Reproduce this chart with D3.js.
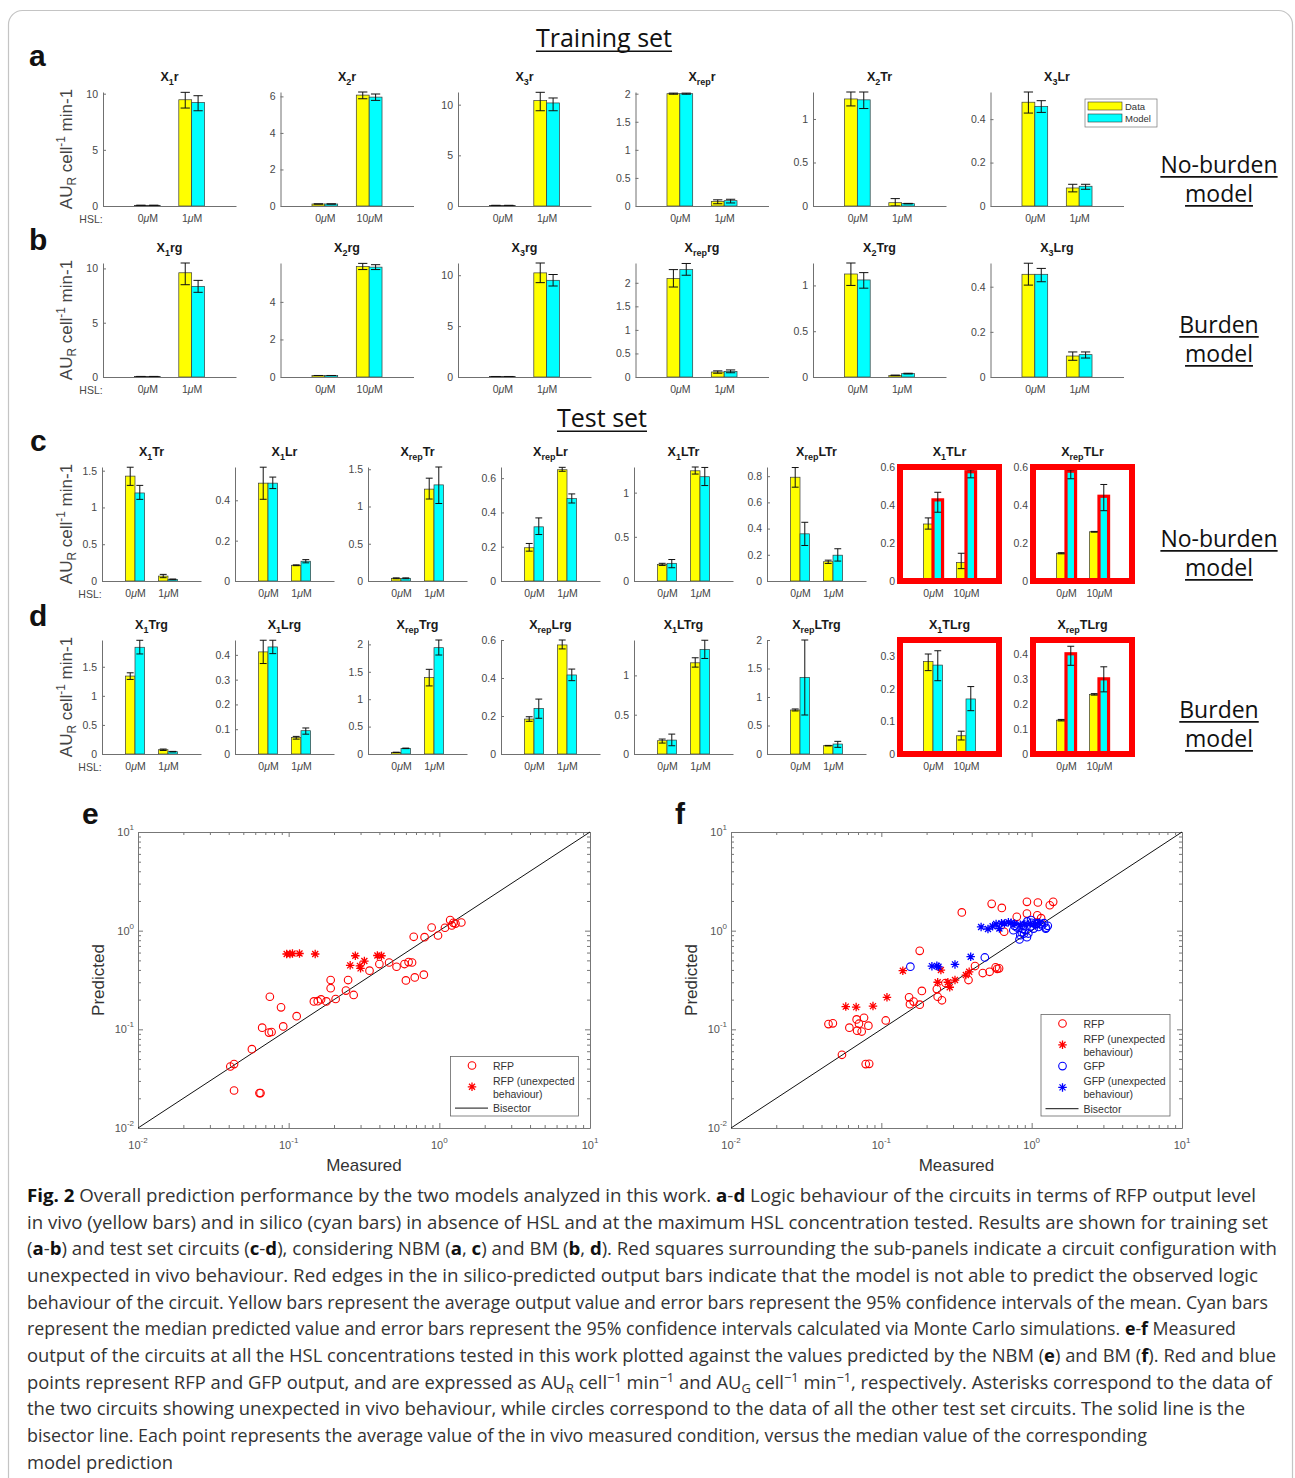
<!DOCTYPE html>
<html>
<head>
<meta charset="utf-8">
<script src="https://cdn.jsdelivr.net/npm/d3@7"></script>
<style>
  body { margin: 0; background: #fff; }
</style>
</head>
<body>
<svg id="fig" width="1295" height="1478" style="font-family:'Liberation Sans', Arial, sans-serif"></svg>
<script>
// ---------- bar panels: each pair is [0 uM HSL, max HSL] ----------
// a: training set, no-burden model
var titlesA = [["1","r"],["2","r"],["3","r"],["rep","r"],["2","Tr"],["3","Lr"]];
var hslMaxA = ["1μM","10μM","1μM","1μM","1μM","1μM"];
var dataA   = [[0.06,9.46],[0.11,6.07],[0.06,10.4],[2.0,0.083],[1.23,0.038],[0.478,0.083]];
var dataLoA = [[0.06,8.72],[0.11,5.87],[0.06,9.4],[1.99,0.04],[1.15,0.0],[0.428,0.065]];
var dataHiA = [[0.06,10.12],[0.11,6.24],[0.06,11.22],[2.01,0.11],[1.31,0.085],[0.525,0.1]];
var modelA   = [[0.06,9.22],[0.11,5.96],[0.06,10.17],[2.0,0.095],[1.22,0.027],[0.459,0.091]];
var modelLoA = [[0.06,8.48],[0.11,5.78],[0.06,9.4],[1.99,0.054],[1.12,0.024],[0.431,0.077]];
var modelHiA = [[0.06,9.82],[0.11,6.13],[0.06,10.66],[2.01,0.12],[1.31,0.03],[0.485,0.1]];
var ticksA = [[0,5,10],[0,2,4,6],[0,5,10],[0,0.5,1,1.5,2],[0,0.5,1],[0,0.2,0.4]];
var yMaxA  = [10.15, 6.24, 11.25, 2.03, 1.31, 0.525];

// b: training set, burden model
var titlesB = [["1","rg"],["2","rg"],["3","rg"],["rep","rg"],["2","Trg"],["3","Lrg"]];
var hslMaxB = ["1μM","10μM","1μM","1μM","1μM","1μM"];
var dataB   = [[0.05,9.6],[0.08,5.88],[0.05,10.23],[2.09,0.106],[1.125,0.018],[0.455,0.093]];
var dataLoB = [[0.05,8.5],[0.08,5.72],[0.05,9.27],[1.91,0.08],[1.0,0.015],[0.407,0.074]];
var dataHiB = [[0.05,10.5],[0.08,6.05],[0.05,11.2],[2.28,0.13],[1.245,0.021],[0.504,0.111]];
var modelB   = [[0.05,8.35],[0.08,5.85],[0.05,9.5],[2.28,0.12],[1.06,0.037],[0.455,0.099]];
var modelLoB = [[0.05,7.8],[0.08,5.72],[0.05,8.94],[2.16,0.09],[0.97,0.033],[0.422,0.084]];
var modelHiB = [[0.05,8.9],[0.08,5.98],[0.05,10.07],[2.41,0.15],[1.14,0.041],[0.481,0.111]];
var ticksB = [[0,5,10],[0,2,4],[0,5,10],[0,0.5,1,1.5,2],[0,0.5,1],[0,0.2,0.4]];
var yMaxB  = [10.5, 6.07, 11.2, 2.42, 1.245, 0.505];

// c: test set, no-burden model
var titlesC = [["1","Tr"],["1","Lr"],["rep","Tr"],["rep","Lr"],["1","LTr"],["rep","LTr"],["1","TLr"],["rep","TLr"]];
var hslMaxC = ["1μM","1μM","1μM","1μM","1μM","1μM","10μM","10μM"];
var dataC   = [[1.426,0.067],[0.485,0.078],[0.036,1.233],[0.194,0.649],[0.187,1.247],[0.792,0.147],[0.3,0.097],[0.146,0.259]];
var dataLoC = [[1.3,0.045],[0.405,0.076],[0.03,1.1],[0.174,0.64],[0.176,1.21],[0.716,0.134],[0.273,0.065],[0.143,0.257]];
var dataHiC = [[1.547,0.09],[0.564,0.08],[0.042,1.38],[0.219,0.663],[0.2,1.29],[0.866,0.159],[0.332,0.146],[0.149,0.261]];
var modelC   = [[1.197,0.022],[0.485,0.098],[0.036,1.29],[0.316,0.481],[0.2,1.18],[0.36,0.197],[0.427,0.575],[0.578,0.446]];
var modelLoC = [[1.11,0.017],[0.458,0.09],[0.03,1.04],[0.271,0.455],[0.15,1.08],[0.271,0.152],[0.362,0.543],[0.538,0.37]];
var modelHiC = [[1.3,0.027],[0.515,0.106],[0.042,1.53],[0.368,0.508],[0.243,1.285],[0.448,0.246],[0.467,0.585],[0.585,0.508]];
var ticksC = [[0,0.5,1,1.5],[0,0.2,0.4],[0,0.5,1,1.5],[0,0.2,0.4,0.6],[0,0.5,1],[0,0.2,0.4,0.6,0.8],[0,0.2,0.4,0.6],[0,0.2,0.4,0.6]];
var yMaxC  = [1.55, 0.565, 1.53, 0.665, 1.29, 0.87, 0.6, 0.6];
var redBoxC  = [0,0,0,0,0,0,1,1];
var redEdgeC = [0,0,0,0,0,0,1,1];

// d: test set, burden model
var titlesD = [["1","Trg"],["1","Lrg"],["rep","Trg"],["rep","Lrg"],["1","LTrg"],["rep","LTrg"],["1","TLrg"],["rep","TLrg"]];
var hslMaxD = ["1μM","1μM","1μM","1μM","1μM","1μM","10μM","10μM"];
var dataD   = [[1.34,0.074],[0.412,0.067],[0.03,1.394],[0.184,0.574],[0.169,1.16],[0.772,0.146],[0.284,0.056],[0.135,0.238]];
var dataLoD = [[1.282,0.06],[0.365,0.06],[0.027,1.242],[0.172,0.553],[0.139,1.105],[0.755,0.141],[0.256,0.043],[0.132,0.235]];
var dataHiD = [[1.396,0.085],[0.459,0.071],[0.033,1.545],[0.196,0.6],[0.19,1.224],[0.79,0.151],[0.307,0.07],[0.138,0.241]];
var modelD   = [[1.835,0.04],[0.432,0.094],[0.103,1.94],[0.24,0.416],[0.177,1.33],[1.345,0.175],[0.273,0.169],[0.4,0.3]];
var modelLoD = [[1.72,0.035],[0.405,0.08],[0.098,1.806],[0.188,0.386],[0.105,1.215],[0.684,0.117],[0.225,0.133],[0.354,0.248]];
var modelHiD = [[1.955,0.045],[0.459,0.105],[0.108,2.08],[0.289,0.447],[0.253,1.447],[2.0,0.222],[0.317,0.207],[0.43,0.348]];
var ticksD = [[0,0.5,1,1.5],[0,0.1,0.2,0.3,0.4],[0,0.5,1,1.5,2],[0,0.2,0.4,0.6],[0,0.5,1],[0,0.5,1,1.5,2],[0,0.1,0.2,0.3],[0,0.1,0.2,0.3,0.4]];
var yMaxD  = [1.96, 0.46, 2.08, 0.6, 1.45, 2.0, 0.35, 0.455];
var redBoxD  = [0,0,0,0,0,0,1,1];
var redEdgeD = [0,0,0,0,0,0,0,1];

// ---------- scatter panels: [measured, predicted] ----------
var eRfp = [[0.041,0.042],[0.0434,0.0444],[0.0434,0.024],[0.064,0.0226],[0.065,0.0226],[0.057,0.063],[0.0667,0.104],
  [0.074,0.0927],[0.077,0.094],[0.075,0.214],[0.089,0.167],[0.092,0.107],[0.113,0.136],[0.147,0.192],[0.156,0.193],
  [0.164,0.201],[0.178,0.192],[0.19,0.316],[0.19,0.261],[0.205,0.203],[0.24,0.247],[0.248,0.316],[0.27,0.223],
  [0.344,0.393],[0.40,0.459],[0.464,0.476],[0.52,0.431],[0.587,0.459],[0.625,0.48],[0.659,0.476],[0.60,0.313],
  [0.687,0.336],[0.789,0.358],[0.676,0.867],[0.798,0.86],[0.889,1.077],[0.98,0.893],[1.09,1.07],[1.18,1.28],
  [1.21,1.13],[1.28,1.18],[1.40,1.21],[1.24,1.2]];
var eRfpUnexp = [[0.097,0.58],[0.102,0.58],[0.106,0.587],[0.118,0.587],[0.150,0.58],[0.256,0.445],[0.277,0.557],
  [0.297,0.44],[0.3,0.415],[0.318,0.492],[0.388,0.56],[0.413,0.557]];
var fRfp = [[0.0445,0.113],[0.0476,0.115],[0.0547,0.0552],[0.0613,0.104],[0.0685,0.126],[0.069,0.097],[0.071,0.114],
  [0.074,0.095],[0.0767,0.131],[0.082,0.109],[0.0787,0.0444],[0.083,0.0447],[0.107,0.123],[0.153,0.211],[0.155,0.18],
  [0.164,0.191],[0.18,0.178],[0.186,0.245],[0.18,0.625],[0.234,0.256],[0.237,0.214],[0.253,0.197],[0.267,0.295],
  [0.38,0.316],[0.42,0.438],[0.473,0.372],[0.525,0.383],[0.576,0.425],[0.59,0.41],[0.607,0.415],[0.343,1.53],
  [0.542,1.87],[0.633,1.70],[0.656,0.975],[0.796,1.38],[0.93,1.49],[0.93,1.96],[1.1,1.93],[1.09,1.43],[1.156,1.34],
  [1.32,1.81],[1.39,1.96]];
var fRfpUnexp = [[0.058,0.17],[0.068,0.168],[0.088,0.172],[0.109,0.211],[0.139,0.393],[0.249,0.399],[0.237,0.3],
  [0.277,0.3],[0.285,0.267],[0.309,0.316],[0.365,0.355],[0.384,0.383]];
var fGfp = [[0.156,0.432],[0.488,0.535],[0.755,1.01],[0.796,1.08],[0.84,0.9],[0.83,0.815],[0.86,0.965],[0.88,1.12],
  [0.9,1.02],[0.93,0.86],[0.95,0.935],[0.98,1.10],[1.0,1.2],[1.03,1.05],[1.06,1.16],[1.09,1.19],[1.11,1.09],
  [1.15,1.17],[1.17,1.13],[1.21,1.19],[1.24,1.05],[1.28,1.12],[1.25,1.07],[0.935,1.24],[0.99,1.28],[0.87,1.04],
  [0.89,0.935],[0.77,1.12]];
var fGfpUnexp = [[0.461,1.09],[0.512,1.04],[0.55,1.11],[0.58,1.17],[0.61,1.05],[0.63,1.19],[0.66,1.18],[0.70,1.22],
  [0.73,1.20],[0.77,1.18],[0.84,1.15],[0.9,1.17],[0.98,1.18],[1.06,1.17],[1.13,1.2],[0.217,0.437],[0.234,0.44],
  [0.24,0.43],[0.309,0.455],[0.393,0.545]];
var logTicks = [0.01, 0.1, 1, 10];

var captionLines = [
  "**Fig. 2** Overall prediction performance by the two models analyzed in this work. **a**-**d** Logic behaviour of the circuits in terms of RFP output level",
  "in vivo (yellow bars) and in silico (cyan bars) in absence of HSL and at the maximum HSL concentration tested. Results are shown for training set",
  "(**a**-**b**) and test set circuits (**c**-**d**), considering NBM (**a**, **c**) and BM (**b**, **d**). Red squares surrounding the sub-panels indicate a circuit configuration with",
  "unexpected in vivo behaviour. Red edges in the in silico-predicted output bars indicate that the model is not able to predict the observed logic",
  "behaviour of the circuit. Yellow bars represent the average output value and error bars represent the 95% confidence intervals of the mean. Cyan bars",
  "represent the median predicted value and error bars represent the 95% confidence intervals calculated via Monte Carlo simulations. **e**-**f** Measured",
  "output of the circuits at all the HSL concentrations tested in this work plotted against the values predicted by the NBM (**e**) and BM (**f**). Red and blue",
  "points represent RFP and GFP output, and are expressed as AU_{R} cell^{−1} min^{−1} and AU_{G} cell^{−1} min^{−1}, respectively. Asterisks correspond to the data of",
  "the two circuits showing unexpected in vivo behaviour, while circles correspond to the data of all the other test set circuits. The solid line is the",
  "bisector line. Each point represents the average value of the in vivo measured condition, versus the median value of the corresponding",
  "model prediction"
];
// right end (px) of each caption line in the printed figure
var captionEnds = [1256, 1268, 1277, 1258, 1268, 1236, 1276, 1272, 1245, 1147, 173];

var svg = d3.select("#fig");
var YEL = "#ffff00", CYA = "#00ffff", RED = "#ff0000", BLU = "#0000ff";
var BAR = 0.29; // bar width, x units

// outer frame
svg.append("rect").attr("x", 8.5).attr("y", 10.5).attr("width", 1284).attr("height", 1500)
  .attr("rx", 14).attr("fill", "#fff").attr("stroke", "#c4c4c4").attr("stroke-width", 1.2);

// text with **bold**, _{sub}, ^{sup}
function richText(sel, str) {
  var shift = 0;
  str.split(/(\*\*[^*]+\*\*|_\{[^}]+\}|\^\{[^}]+\})/).filter(function(s) { return s.length; }).forEach(function(s) {
    var ts = sel.append("tspan"), want = 0, txt = s;
    if (s.indexOf("**") === 0) { txt = s.slice(2, -2); ts.attr("font-weight", "bold").attr("fill", "#111"); }
    else if (s.indexOf("_{") === 0) { txt = s.slice(2, -1); want = 4; ts.attr("font-size", "0.7em"); }
    else if (s.indexOf("^{") === 0) { txt = s.slice(2, -1); want = -7; ts.attr("font-size", "0.7em"); }
    ts.attr("dy", want - shift).text(txt);
    shift = want;
  });
}

function underlined(x, y, txt, size) {
  var t = svg.append("text").attr("x", x).attr("y", y).attr("text-anchor", "middle")
    .attr("font-family", "'Open Sans', sans-serif").attr("font-size", size).attr("fill", "#111").text(txt);
  var w = t.node().getComputedTextLength();
  svg.append("line").attr("x1", x - w / 2).attr("x2", x + w / 2)
    .attr("y1", y + size * 0.17).attr("y2", y + size * 0.17).attr("stroke", "#111").attr("stroke-width", 1.6);
}

function panelLetter(x, y, s) {
  svg.append("text").attr("x", x).attr("y", y).attr("font-size", 30).attr("font-weight", "bold")
    .attr("fill", "#111").text(s);
}

function drawBarRow(p, lay) {
  p.titles.forEach(function(title, i) {
    var left = lay.x0 + i * lay.step;
    var x = d3.scaleLinear().domain([0, 3]).range([left, left + lay.w]);
    var y = d3.scaleLinear().domain([0, p.yMax[i]]).range([lay.bottom, lay.top]);
    var bars = [];
    [0, 1].forEach(function(k) {
      bars.push({g: k + 1, off: -BAR, fill: YEL, v: p.data[i][k], lo: p.dataLo[i][k], hi: p.dataHi[i][k], red: false});
      bars.push({g: k + 1, off: 0, fill: CYA, v: p.model[i][k], lo: p.modelLo[i][k], hi: p.modelHi[i][k],
        red: p.redEdge ? p.redEdge[i] === 1 : false});
    });
    var g = svg.append("g");
    g.selectAll("rect.bar").data(bars).join("rect").attr("class", "bar")
      .attr("x", function(d) { return x(d.g + d.off); })
      .attr("width", x(BAR) - x(0))
      .attr("y", function(d) { return y(d.v); })
      .attr("height", function(d) { return y(0) - y(d.v); })
      .attr("fill", function(d) { return d.fill; })
      .attr("stroke", function(d) { return d.red ? RED : "#3a3a3a"; })
      .attr("stroke-width", function(d) { return d.red ? 3.2 : 0.7; });

    var cap = BAR * 0.36;
    var eb = g.selectAll("g.err").data(bars).join("g").attr("class", "err")
      .attr("stroke", "#111").attr("stroke-width", 1);
    eb.append("line")
      .attr("x1", function(d) { return x(d.g + d.off + BAR / 2); })
      .attr("x2", function(d) { return x(d.g + d.off + BAR / 2); })
      .attr("y1", function(d) { return y(d.lo); }).attr("y2", function(d) { return y(d.hi); });
    ["lo", "hi"].forEach(function(key) {
      eb.append("line")
        .attr("x1", function(d) { return x(d.g + d.off + BAR / 2 - cap); })
        .attr("x2", function(d) { return x(d.g + d.off + BAR / 2 + cap); })
        .attr("y1", function(d) { return y(d[key]); }).attr("y2", function(d) { return y(d[key]); });
    });

    var ya = g.append("g").attr("transform", "translate(" + x(0) + ",0)")
      .call(d3.axisLeft(y).tickValues(p.ticks[i]).tickSizeInner(-3).tickSizeOuter(0).tickPadding(5)
        .tickFormat(d3.format("~g")));
    var xa = g.append("g").attr("transform", "translate(0," + lay.bottom + ")")
      .call(d3.axisBottom(x).tickValues([1, 2]).tickSize(0).tickPadding(9)
        .tickFormat(function(d) { return d === 1 ? "0μM" : p.hslMax[i]; }));
    [ya, xa].forEach(function(a) {
      a.attr("color", "#707070").attr("font-size", 10.5).attr("font-family", null);
      a.selectAll("text").attr("fill", "#474747");
    });
    // italic mu as in the TeX tick labels
    xa.selectAll(".tick text").each(function() {
      var t = d3.select(this), s = t.text(), j = s.indexOf("μ");
      t.text(null);
      t.append("tspan").text(s.slice(0, j));
      t.append("tspan").attr("font-style", "italic").text("μ");
      t.append("tspan").text(s.slice(j + 1));
    });

    if (p.redBox && p.redBox[i] === 1) {
      g.append("rect").attr("x", x(0)).attr("y", lay.top).attr("width", x(3) - x(0))
        .attr("height", lay.bottom - lay.top).attr("fill", "none").attr("stroke", RED).attr("stroke-width", 6);
    }

    var tt = g.append("text").attr("x", (x(0) + x(3)) / 2).attr("y", lay.top - 11)
      .attr("text-anchor", "middle").attr("font-weight", "bold").attr("font-size", 12.5).attr("fill", "#1a1a1a");
    tt.append("tspan").text("X");
    tt.append("tspan").attr("font-size", 9).attr("dy", 4).text(title[0]);
    tt.append("tspan").attr("dy", -4).text(title[1]);

    if (p.legend === i) {
      var lg = g.append("g").attr("transform", "translate(1085,99)");
      lg.append("rect").attr("width", 72).attr("height", 28).attr("fill", "#fff").attr("stroke", "#777").attr("stroke-width", 0.7);
      [[YEL, "Data"], [CYA, "Model"]].forEach(function(e, k) {
        lg.append("rect").attr("x", 3).attr("y", 3 + k * 12).attr("width", 34).attr("height", 8)
          .attr("fill", e[0]).attr("stroke", "#333").attr("stroke-width", 0.6);
        lg.append("text").attr("x", 40).attr("y", 10.5 + k * 12).attr("font-size", 9.5).attr("fill", "#333").text(e[1]);
      });
    }
  });

  // shared row labels
  svg.append("text").attr("x", lay.x0 - 12).attr("y", lay.bottom + 17).attr("text-anchor", "middle")
    .attr("font-size", 10.5).attr("fill", "#474747").text("HSL:");
  var yl = svg.append("text").attr("transform", "translate(72," + (lay.top + lay.bottom) / 2 + ") rotate(-90)")
    .attr("text-anchor", "middle").attr("font-size", 17).attr("fill", "#444");
  richText(yl, "AU_{R} cell^{-1} min-1");
}

var asterisk = {
  draw: function(ctx, size) {
    var r = Math.sqrt(size) / 2, q = r * 0.7071;
    ctx.moveTo(-r, 0); ctx.lineTo(r, 0);
    ctx.moveTo(0, -r); ctx.lineTo(0, r);
    ctx.moveTo(-q, -q); ctx.lineTo(q, q);
    ctx.moveTo(-q, q); ctx.lineTo(q, -q);
  }
};

function marker(sel, kind, color) {
  if (kind === "o") {
    sel.append("circle").attr("r", 3.8).attr("fill", "none").attr("stroke", color).attr("stroke-width", 1.1);
  } else {
    sel.append("path").attr("d", d3.symbol().type(asterisk).size(72)()).attr("fill", "none")
      .attr("stroke", color).attr("stroke-width", 1.3);
  }
}

function drawScatter(o) {
  var x = d3.scaleLog().domain([1e-2, 1e1]).range([o.left, o.right]);
  var y = d3.scaleLog().domain([1e-2, 1e1]).range([o.bottom, o.top]);
  var g = svg.append("g");
  var minor = [];
  logTicks.slice(0, 3).forEach(function(d) { for (var m = 2; m < 10; m++) minor.push(d * m); });
  [[d3.axisBottom(x), "translate(0," + o.bottom + ")"], [d3.axisTop(x), "translate(0," + o.top + ")"],
   [d3.axisLeft(y), "translate(" + o.left + ",0)"], [d3.axisRight(y), "translate(" + o.right + ",0)"]]
  .forEach(function(a) {
    g.append("g").attr("transform", a[1]).attr("color", "#777")
      .call(a[0].tickValues(logTicks).tickSizeInner(-5).tickSizeOuter(0).tickFormat(""));
    g.append("g").attr("transform", a[1]).attr("color", "#777")
      .call(a[0].tickValues(minor).tickSizeInner(-3).tickFormat("")).select(".domain").remove();
  });

  logTicks.forEach(function(v) {
    var ex = Math.round(Math.log10(v));
    var tx = g.append("text").attr("x", x(v)).attr("y", o.bottom + 21).attr("text-anchor", "middle")
      .attr("font-size", 11).attr("fill", "#555");
    tx.append("tspan").text("10");
    tx.append("tspan").attr("dy", -6).attr("font-size", 8).text(ex);
    var ty = g.append("text").attr("x", o.left - 4).attr("y", y(v) + 4).attr("text-anchor", "end")
      .attr("font-size", 11).attr("fill", "#555");
    ty.append("tspan").text("10");
    ty.append("tspan").attr("dy", -6).attr("font-size", 8).text(ex);
  });

  g.append("line").attr("x1", x(1e-2)).attr("y1", y(1e-2)).attr("x2", x(1e1)).attr("y2", y(1e1))
    .attr("stroke", "#111").attr("stroke-width", 1);

  o.series.forEach(function(s) {
    g.append("g").selectAll("g").data(s.pts).join("g")
      .attr("transform", function(d) { return "translate(" + x(d[0]) + "," + y(d[1]) + ")"; })
      .each(function() { marker(d3.select(this), s.kind, s.color); });
  });

  g.append("text").attr("x", (o.left + o.right) / 2).attr("y", o.bottom + 43).attr("text-anchor", "middle")
    .attr("font-size", 17).attr("fill", "#333").text("Measured");
  g.append("text").attr("transform", "translate(" + (o.left - 34) + "," + (o.top + o.bottom) / 2 + ") rotate(-90)")
    .attr("text-anchor", "middle").attr("font-size", 17).attr("fill", "#333").text("Predicted");

  // legend
  var lg = g.append("g").attr("transform", "translate(" + o.legend[0] + "," + o.legend[1] + ")");
  lg.append("rect").attr("width", o.legend[2]).attr("height", o.legend[3]).attr("fill", "#fff")
    .attr("stroke", "#666").attr("stroke-width", 0.8);
  var rows = o.series.map(function(s) { return {kind: s.kind, color: s.color, label: s.label}; });
  rows.push({kind: "line", color: "#111", label: ["Bisector"]});
  rows.forEach(function(r, k) {
    var cy = 9 + k * 21.3;
    if (r.kind === "line") {
      lg.append("line").attr("x1", 4.5).attr("x2", 37.5).attr("y1", cy).attr("y2", cy)
        .attr("stroke", "#111").attr("stroke-width", 1);
    } else {
      marker(lg.append("g").attr("transform", "translate(21.5," + cy + ")"), r.kind, r.color);
    }
    r.label.forEach(function(t, j) {
      var by = r.label.length === 1 ? cy + 4 : cy - 2 + j * 13;
      lg.append("text").attr("x", 42.5).attr("y", by).attr("font-size", 10.5).attr("fill", "#333").text(t);
    });
  });
}

// ---------- headers ----------
underlined(604, 47, "Training set", 25);
underlined(602, 427, "Test set", 25);
underlined(1219, 173, "No-burden", 23);
underlined(1219, 202, "model", 23);
underlined(1219, 333, "Burden", 23);
underlined(1219, 362, "model", 23);
underlined(1219, 547, "No-burden", 23);
underlined(1219, 576, "model", 23);
underlined(1219, 718, "Burden", 23);
underlined(1219, 747, "model", 23);

panelLetter(29, 66, "a");
panelLetter(29, 250, "b");
panelLetter(30, 451, "c");
panelLetter(29, 626, "d");
panelLetter(82, 824, "e");
panelLetter(675, 824, "f");

// ---------- bar rows ----------
drawBarRow({titles: titlesA, hslMax: hslMaxA, data: dataA, dataLo: dataLoA, dataHi: dataHiA,
  model: modelA, modelLo: modelLoA, modelHi: modelHiA, ticks: ticksA, yMax: yMaxA, legend: 5},
  {x0: 103, step: 177.5, w: 133, top: 92, bottom: 206});
drawBarRow({titles: titlesB, hslMax: hslMaxB, data: dataB, dataLo: dataLoB, dataHi: dataHiB,
  model: modelB, modelLo: modelLoB, modelHi: modelHiB, ticks: ticksB, yMax: yMaxB},
  {x0: 103, step: 177.5, w: 133, top: 263, bottom: 377});
drawBarRow({titles: titlesC, hslMax: hslMaxC, data: dataC, dataLo: dataLoC, dataHi: dataHiC,
  model: modelC, modelLo: modelLoC, modelHi: modelHiC, ticks: ticksC, yMax: yMaxC,
  redBox: redBoxC, redEdge: redEdgeC},
  {x0: 102, step: 133, w: 99, top: 467, bottom: 581});
drawBarRow({titles: titlesD, hslMax: hslMaxD, data: dataD, dataLo: dataLoD, dataHi: dataHiD,
  model: modelD, modelLo: modelLoD, modelHi: modelHiD, ticks: ticksD, yMax: yMaxD,
  redBox: redBoxD, redEdge: redEdgeD},
  {x0: 102, step: 133, w: 99, top: 640, bottom: 754});

// ---------- scatter panels ----------
drawScatter({left: 138, right: 590, top: 832, bottom: 1128, legend: [450.5, 1056.5, 128, 59.5],
  series: [
    {pts: eRfp, kind: "o", color: RED, label: ["RFP"]},
    {pts: eRfpUnexp, kind: "*", color: RED, label: ["RFP (unexpected", "behaviour)"]}
  ]});
drawScatter({left: 731, right: 1182, top: 832, bottom: 1128, legend: [1041, 1014.5, 129, 101.5],
  series: [
    {pts: fRfp, kind: "o", color: RED, label: ["RFP"]},
    {pts: fRfpUnexp, kind: "*", color: RED, label: ["RFP (unexpected", "behaviour)"]},
    {pts: fGfp, kind: "o", color: BLU, label: ["GFP"]},
    {pts: fGfpUnexp, kind: "*", color: BLU, label: ["GFP (unexpected", "behaviour)"]}
  ]});

// ---------- caption ----------
var capX = 27;
captionLines.forEach(function(line, i) {
  var t = svg.append("text").attr("x", capX).attr("y", 1202 + i * 26.65)
    .attr("font-family", "'Open Sans', sans-serif").attr("font-size", 18.5).attr("fill", "#333");
  richText(t, line);
  t.attr("textLength", captionEnds[i] - capX).attr("lengthAdjust", "spacingAndGlyphs");
});
</script>
</body>
</html>
